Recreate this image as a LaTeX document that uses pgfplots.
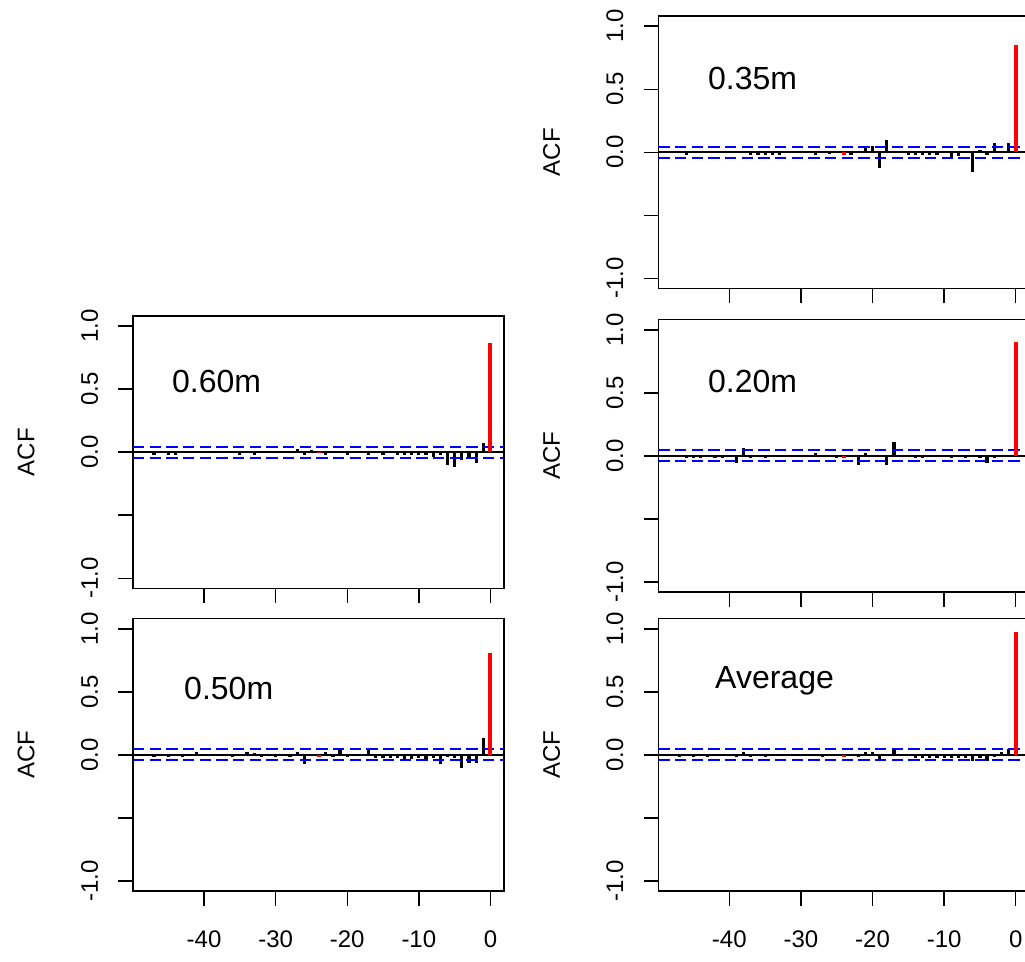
\documentclass[border=0pt]{standalone}
\usepackage{fontspec}
\setmainfont{Liberation Sans}
\usepackage{pgfplots}
\usepackage{pgfplotstable}
\pgfplotsset{compat=1.18}

% columns: A=0.35m, B=0.60m, C=0.50m, D=0.20m, E=Average
\pgfplotstableread{
lag A B C D E
-48 0.003 0.002 0.003 0.002 0.002
-47 -0.004 -0.020 -0.020 0.003 -0.020
-46 -0.020 0.003 0.002 -0.020 0.003
-45 0.002 -0.020 -0.020 -0.020 -0.020
-44 -0.003 -0.020 0.003 -0.020 0.002
-43 0.004 0.002 -0.020 0.003 -0.020
-42 -0.002 -0.003 0.002 -0.020 0.003
-41 0.003 0.004 0.020 -0.020 -0.002
-40 -0.004 0.002 -0.003 0.002 0.003
-39 0.002 -0.003 0.002 -0.060 -0.020
-38 0.003 0.003 -0.002 0.065 0.022
-37 -0.020 -0.002 0.003 -0.020 -0.020
-36 -0.022 0.003 -0.020 0.003 0.002
-35 -0.021 -0.020 0.002 -0.020 -0.020
-34 -0.020 0.002 0.020 0.002 0.003
-33 -0.018 -0.020 0.016 -0.003 -0.002
-32 0.003 0.003 -0.020 0.002 0.002
-31 -0.002 -0.002 0.003 0.003 0.003
-30 0.004 0.004 -0.020 -0.002 -0.002
-29 -0.003 -0.003 0.002 0.003 0.003
-28 -0.020 0.002 -0.020 0.020 0.002
-27 0.003 0.022 0.025 0.002 -0.020
-26 -0.016 -0.020 -0.070 -0.003 0.003
-25 0.002 0.020 0.003 -0.020 0.002
-24 -0.018 -0.004 -0.020 -0.020 -0.020
-23 -0.022 -0.020 0.020 0.003 0.003
-22 0.005 0.003 -0.020 -0.075 -0.020
-21 0.030 0.002 0.035 0.022 0.022
-20 0.050 -0.020 -0.020 0.002 0.020
-19 -0.125 0.003 0.003 -0.003 -0.035
-18 0.095 -0.002 -0.003 -0.075 0.003
-17 0.004 -0.020 0.052 0.110 0.045
-16 -0.004 0.003 -0.022 0.003 0.003
-15 -0.022 -0.020 -0.025 -0.002 0.002
-14 -0.024 0.003 -0.026 -0.020 -0.022
-13 -0.022 -0.022 -0.025 -0.020 -0.022
-12 -0.022 -0.024 -0.030 0.002 -0.024
-11 -0.021 -0.025 -0.032 0.003 -0.022
-10 0.003 -0.024 -0.028 -0.002 -0.024
-9 -0.035 -0.026 -0.035 -0.020 -0.022
-8 -0.033 -0.035 -0.026 0.003 -0.025
-7 0.005 -0.026 -0.070 -0.020 -0.024
-6 -0.155 -0.105 -0.020 0.002 -0.045
-5 0.020 -0.115 -0.026 -0.020 -0.022
-4 -0.020 -0.060 -0.105 -0.055 -0.045
-3 0.070 -0.055 -0.062 -0.020 -0.020
-2 0.004 -0.085 -0.065 0.003 0.020
-1 0.070 0.070 0.135 0.004 0.045
0 0.850 0.865 0.810 0.900 0.976
}\acfdata

\newcommand{\tickfont}{\fontsize{18}{20}\selectfont}
\newcommand{\titlefont}{\fontsize{24}{28}\selectfont}

\pgfplotsset{
  acfpanel/.style={
    scale only axis, width=278.4pt, height=204.2pt,
    anchor=south west,
    xmin=-49.92, xmax=1.92, ymin=-1.08, ymax=1.08,
    axis line style={black, line width=1.1pt},
    xtick={-40,-30,-20,-10,0},
    ytick={-1,-0.5,0,0.5,1},
    yticklabels={-1.0,,0.0,0.5,1.0},
    xtick pos=bottom, ytick pos=left, tick align=outside,
    major tick length=11pt,
    tick style={black, line width=1.1pt},
    yticklabel style={rotate=90, anchor=south, inner sep=0pt, font=\tickfont},
    yticklabel shift=15pt,
    xticklabel style={anchor=north, inner sep=0pt, font=\tickfont},
    xticklabel shift=18.6pt,
    ylabel={ACF},
    every axis y label/.style={at={(axis description cs:-0.264,0.5)}, rotate=90, anchor=south, inner sep=0pt, font=\tickfont},
  },
  nolabels/.style={xticklabels={}},
  withlabels/.style={xticklabels={-40,-30,-20,-10,0}},
  bars/.style={ycomb, draw=black, line width=2.4pt},
  redbars/.style={ycomb, draw=red, line width=3pt},
  zeroline/.style={draw=black, line width=1.2pt},
  ciline/.style={draw=blue, line width=1.5pt, dash pattern=on 8.5pt off 4pt},
}

\begin{document}
\begin{tikzpicture}
\path[use as bounding box, clip] (0pt,0pt) rectangle (768.75pt,720.75pt);

% 0.35m
\begin{axis}[acfpanel, nolabels, at={(493.7pt,504.45pt)}]
\addplot[bars] table[x=lag, y=A] {\acfdata};
\addplot[zeroline] coordinates {(-49.92,0) (1.92,0)};
\addplot[ciline] coordinates {(-49.92,0.044) (1.92,0.044)};
\addplot[ciline] coordinates {(-49.92,-0.044) (1.92,-0.044)};
\addplot[redbars] coordinates {(-24,-0.018) (0,0.850)};
\node[anchor=base west, font=\titlefont, inner sep=0pt] at (axis cs:-43.0,0.494) {0.35m};
\end{axis}

% 0.20m
\begin{axis}[acfpanel, nolabels, at={(493.7pt,276.75pt)}]
\addplot[bars] table[x=lag, y=D] {\acfdata};
\addplot[zeroline] coordinates {(-49.92,0) (1.92,0)};
\addplot[ciline] coordinates {(-49.92,0.044) (1.92,0.044)};
\addplot[ciline] coordinates {(-49.92,-0.044) (1.92,-0.044)};
\addplot[redbars] coordinates {(-24,-0.020) (0,0.900)};
\node[anchor=base west, font=\titlefont, inner sep=0pt] at (axis cs:-43.0,0.50) {0.20m};
\end{axis}

% Average
\begin{axis}[acfpanel, withlabels, at={(493.7pt,52.5pt)}]
\addplot[bars] table[x=lag, y=E] {\acfdata};
\addplot[zeroline] coordinates {(-49.92,0) (1.92,0)};
\addplot[ciline] coordinates {(-49.92,0.044) (1.92,0.044)};
\addplot[ciline] coordinates {(-49.92,-0.044) (1.92,-0.044)};
\addplot[redbars] coordinates {(-24,-0.020) (0,0.976)};
\node[anchor=base west, font=\titlefont, inner sep=0pt] at (axis cs:-42.0,0.53) {Average};
\end{axis}

% 0.60m
\begin{axis}[acfpanel, nolabels, at={(99.75pt,279.5pt)}]
\addplot[bars] table[x=lag, y=B] {\acfdata};
\addplot[zeroline] coordinates {(-49.92,0) (1.92,0)};
\addplot[ciline] coordinates {(-49.92,0.044) (1.92,0.044)};
\addplot[ciline] coordinates {(-49.92,-0.044) (1.92,-0.044)};
\addplot[redbars] coordinates {(-24,-0.004) (0,0.865)};
\node[anchor=base west, font=\titlefont, inner sep=0pt] at (axis cs:-44.5,0.47) {0.60m};
\end{axis}

% 0.50m
\begin{axis}[acfpanel, withlabels, at={(99.75pt,52.5pt)}]
\addplot[bars] table[x=lag, y=C] {\acfdata};
\addplot[zeroline] coordinates {(-49.92,0) (1.92,0)};
\addplot[ciline] coordinates {(-49.92,0.044) (1.92,0.044)};
\addplot[ciline] coordinates {(-49.92,-0.044) (1.92,-0.044)};
\addplot[redbars] coordinates {(-24,-0.020) (0,0.810)};
\node[anchor=base west, font=\titlefont, inner sep=0pt] at (axis cs:-42.8,0.44) {0.50m};
\end{axis}
\end{tikzpicture}
\end{document}
